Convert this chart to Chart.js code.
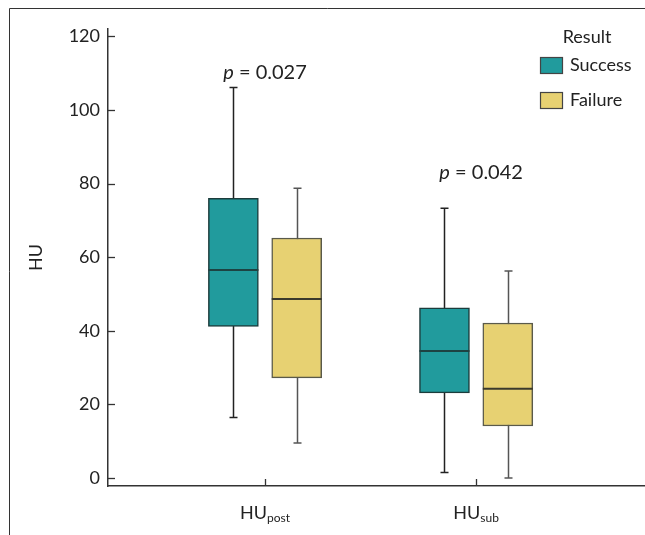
<!DOCTYPE html>
<html>
<head>
<meta charset="utf-8">
<script src="https://cdn.jsdelivr.net/npm/chart.js@4/dist/chart.umd.min.js"></script>
<style>
  html, body { margin: 0; padding: 0; background: #fff; }
  #wrap { width: 645px; height: 535px; position: relative; }
</style>
</head>
<body>
<div id="wrap"><canvas id="box-chart"></canvas></div>
<script>
// categories (x positions on a linear axis) and their labels, HU + subscript
const groupPos = [1, 2];
const groupBase = ['HU', 'HU'];
const groupSub = ['post', 'sub'];

// five-number summaries
const successMin = [16.4, 1.5];
const successQ1 = [41.2, 23.1];
const successMedian = [56.5, 34.5];
const successQ3 = [76.0, 46.2];
const successMax = [106.1, 73.3];

const failureMin = [9.5, 0.0];
const failureQ1 = [27.2, 14.1];
const failureMedian = [48.6, 24.2];
const failureQ3 = [65.2, 42.1];
const failureMax = [78.7, 56.2];

// p values over each pair
const pValues = ['0.027', '0.042'];
const pHeights = [110.3, 83.1];

const yTicks = [0, 20, 40, 60, 80, 100, 120];

const FONT = 'Lato, "Noto Sans", sans-serif';
const TEAL = '#219b9d';
const SAND = '#e7d172';
const shift = 0.15; // half-distance between paired boxes, in x units

function boxes(pos, q1, q3) {
  return pos.map((x, i) => ({ x: x, y: [q1[i], q3[i]] }));
}

const series = [
  { min: successMin, med: successMedian, max: successMax, dx: -shift, line: '#222', medLine: '#1d4343' },
  { min: failureMin, med: failureMedian, max: failureMax, dx: shift, line: '#555', medLine: '#3b3a2c' }
];

const boxPlugin = {
  id: 'boxParts',
  beforeDatasetsDraw(chart) {
    // whiskers behind the boxes
    const ctx = chart.ctx, xs = chart.scales.x, ys = chart.scales.y;
    ctx.save();
    ctx.lineWidth = 1.5;
    series.forEach(s => {
      ctx.strokeStyle = s.line;
      groupPos.forEach((g, i) => {
        const px = Math.round(xs.getPixelForValue(g + s.dx)) + 0.5;
        const top = ys.getPixelForValue(s.max[i]);
        const bot = ys.getPixelForValue(s.min[i]);
        ctx.beginPath();
        ctx.moveTo(px, top); ctx.lineTo(px, bot);
        ctx.moveTo(px - 4, top); ctx.lineTo(px + 4, top);
        ctx.moveTo(px - 4, bot); ctx.lineTo(px + 4, bot);
        ctx.stroke();
      });
    });
    ctx.restore();
  },
  afterDatasetsDraw(chart) {
    const ctx = chart.ctx, xs = chart.scales.x, ys = chart.scales.y;
    ctx.save();
    // medians
    ctx.lineWidth = 2;
    series.forEach(s => {
      ctx.strokeStyle = s.medLine;
      groupPos.forEach((g, i) => {
        const px = xs.getPixelForValue(g + s.dx);
        const py = ys.getPixelForValue(s.med[i]);
        ctx.beginPath();
        ctx.moveTo(px - 25, py); ctx.lineTo(px + 25, py);
        ctx.stroke();
      });
    });

    // inward ticks on both axes
    ctx.strokeStyle = '#333';
    ctx.lineWidth = 1.3;
    const left = chart.chartArea.left, bottom = chart.chartArea.bottom;
    yTicks.forEach(v => {
      const py = Math.round(ys.getPixelForValue(v)) + 0.5;
      ctx.beginPath(); ctx.moveTo(left, py); ctx.lineTo(left + 7, py); ctx.stroke();
    });
    groupPos.forEach(g => {
      const px = Math.round(xs.getPixelForValue(g)) + 0.5;
      ctx.beginPath(); ctx.moveTo(px, bottom); ctx.lineTo(px, bottom - 7); ctx.stroke();
    });

    // x labels with subscripts
    ctx.fillStyle = '#222';
    ctx.textBaseline = 'alphabetic';
    groupPos.forEach((g, i) => {
      const px = xs.getPixelForValue(g);
      ctx.font = '18px ' + FONT;
      const w1 = ctx.measureText(groupBase[i]).width;
      ctx.font = '12px ' + FONT;
      const w2 = ctx.measureText(groupSub[i]).width;
      const x0 = px - (w1 + w2) / 2;
      ctx.font = '18px ' + FONT;
      ctx.textAlign = 'left';
      ctx.fillText(groupBase[i], x0, 519);
      ctx.font = '12px ' + FONT;
      ctx.fillText(groupSub[i], x0 + w1, 522);
    });

    // p value annotations
    groupPos.forEach((g, i) => {
      const px = xs.getPixelForValue(g) + i * 5;
      const py = ys.getPixelForValue(pHeights[i]);
      const rest = ' = ' + pValues[i];
      ctx.font = 'italic 20px ' + FONT;
      const wp = ctx.measureText('p').width;
      ctx.font = '20px ' + FONT;
      const wr = ctx.measureText(rest).width;
      const x0 = px - (wp + wr) / 2;
      ctx.textBaseline = 'middle';
      ctx.textAlign = 'left';
      ctx.font = 'italic 20px ' + FONT;
      ctx.fillText('p', x0, py);
      ctx.font = '20px ' + FONT;
      ctx.fillText(rest, x0 + wp, py);
    });

    // legend
    ctx.textBaseline = 'middle';
    ctx.textAlign = 'center';
    ctx.font = '18px ' + FONT;
    ctx.fillText('Result', 587, 37);
    chart.data.datasets.forEach((ds, i) => {
      const y = 65 + i * 35;
      ctx.fillStyle = ds.backgroundColor;
      ctx.fillRect(540, y - 8, 22, 16);
      ctx.strokeStyle = '#444';
      ctx.lineWidth = 1.2;
      ctx.strokeRect(540.5, y - 7.5, 22, 16);
      ctx.fillStyle = '#222';
      ctx.textAlign = 'left';
      ctx.fillText(ds.label, 570, y);
    });

    // frame round the figure
    ctx.strokeStyle = '#333';
    ctx.lineWidth = 1;
    ctx.beginPath();
    ctx.moveTo(9.5, 535); ctx.lineTo(9.5, 8.5); ctx.lineTo(645, 8.5);
    ctx.stroke();
    ctx.restore();
  }
};

new Chart(document.getElementById('box-chart'), {
  type: 'bar',
  data: {
    datasets: [
      {
        label: 'Success',
        data: boxes(groupPos.map(p => p - shift), successQ1, successQ3),
        backgroundColor: TEAL,
        borderColor: '#1c3c3c',
        borderWidth: 1.5,
        borderSkipped: false,
        barThickness: 50,
        grouped: false
      },
      {
        label: 'Failure',
        data: boxes(groupPos.map(p => p + shift), failureQ1, failureQ3),
        backgroundColor: SAND,
        borderColor: '#5a5a4a',
        borderWidth: 1.5,
        borderSkipped: false,
        barThickness: 50,
        grouped: false
      }
    ]
  },
  options: {
    responsive: true,
    maintainAspectRatio: false,
    animation: false,
    layout: { padding: { top: 29, right: 0, left: 0, bottom: 0 } },
    plugins: { legend: { display: false }, tooltip: { enabled: false } },
    scales: {
      x: {
        type: 'linear',
        offset: false,
        min: 0.256,
        max: 2.8,
        grid: { display: false, offset: false },
        border: { display: true, color: '#333', width: 1.5 },
        ticks: { display: false },
        afterFit: s => { s.height = 49; }
      },
      y: {
        min: -2.2,
        max: 122,
        afterBuildTicks: s => { s.ticks = yTicks.map(v => ({ value: v })); },
        grid: { display: false, drawTicks: false },
        border: { display: true, color: '#333', width: 1.5 },
        ticks: { color: '#222', font: { family: FONT, size: 18 }, padding: 8 },
        title: { display: true, text: 'HU', color: '#222', font: { family: FONT, size: 18 }, padding: { top: 25, bottom: 0 } },
        afterFit: s => { s.width = 108; }
      }
    }
  },
  plugins: [boxPlugin]
});
</script>
</body>
</html>
